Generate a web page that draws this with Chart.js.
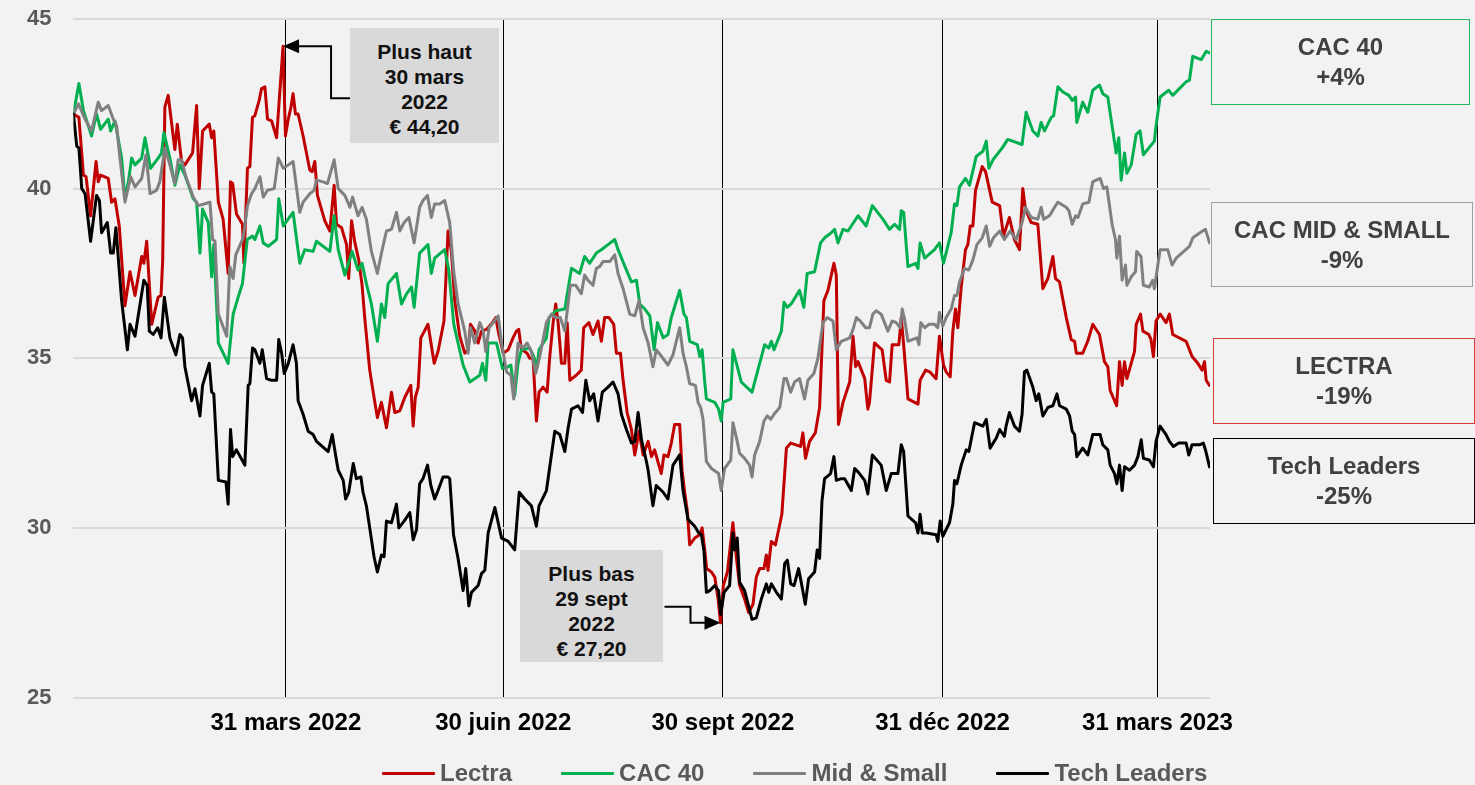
<!DOCTYPE html>
<html><head><meta charset="utf-8">
<script src="https://cdn.jsdelivr.net/npm/chart.js@4/dist/chart.umd.min.js"></script>
<style>
html,body{margin:0;padding:0;background:#f2f2f2;}
#wrap{position:relative;width:1475px;height:785px;overflow:hidden;background:#f2f2f2;font-family:"Liberation Sans",Arial,sans-serif;}
#c{position:absolute;left:0;top:0;}
.note{position:absolute;background:#d9d9d9;color:#111;font-weight:bold;font-size:21px;line-height:25px;text-align:center;box-sizing:border-box;padding-top:11px;}
.perf{position:absolute;box-sizing:border-box;border:1.5px solid;color:#404040;font-weight:bold;font-size:24px;line-height:30px;text-align:center;display:flex;flex-direction:column;justify-content:center;}
#legend{position:absolute;left:382px;top:758px;height:30px;display:flex;align-items:center;font-weight:bold;font-size:24px;color:#595959;white-space:nowrap;}
.li{display:flex;align-items:center;margin-right:49px;}
.li span.sw{display:inline-block;width:53px;height:3px;margin-right:5px;border-radius:1px;}
</style></head>
<body>
<div id="wrap">
<canvas id="c" width="1475" height="785"></canvas>
<div class="note" style="left:350px;top:28px;width:149px;height:115px;">Plus haut<br>30 mars<br>2022<br>€ 44,20</div>
<div class="note" style="left:520px;top:550px;width:143px;height:112px;">Plus bas<br>29 sept<br>2022<br>€ 27,20</div>
<div class="perf" style="left:1211px;top:19px;width:259px;height:86px;border-color:#1fb85a;"><div>CAC 40</div><div>+4%</div></div>
<div class="perf" style="left:1211px;top:202px;width:262px;height:85px;border-color:#a0a0a0;"><div>CAC MID &amp; SMALL</div><div>-9%</div></div>
<div class="perf" style="left:1213px;top:338px;width:262px;height:86px;border-color:#d93a3a;"><div>LECTRA</div><div>-19%</div></div>
<div class="perf" style="left:1213px;top:438px;width:262px;height:86px;border-color:#000;"><div>Tech Leaders</div><div>-25%</div></div>
<div id="legend"></div>
</div>
<script>
// x values are days since 1 Jan 2022
const quarterDays = [89, 180, 272, 364, 454];
const quarterLabels = ["31 mars 2022", "30 juin 2022", "30 sept 2022", "31 déc 2022", "31 mars 2023"];
const yTicks = [25, 30, 35, 40, 45];
const seriesNames = ["Lectra", "CAC 40", "Mid & Small", "Tech Leaders"];
const highPoint = [87.8, 44.2];
const lowPoint = [271, 27.2];

const lectra = [[0,42.2],[2.3,42.1],[4.2,40.4],[5.3,40.35],[7.2,39.2],[9.5,40.8],[10.4,40.2],[11.4,40.4],[14.6,40.3],[16,39.6],[17.4,39.7],[19.2,38.9],[21.6,36.55],[23.7,37.55],[25.8,36.85],[28.6,38.0],[29.5,37.8],[30.7,38.45],[32.8,36.0],[35.5,36.8],[36.7,36.85],[37.4,37.9],[38.3,42.4],[39.7,42.75],[42.5,41.15],[43.5,41.9],[45.3,40.8],[46.7,40.7],[49.9,41.05],[51.6,42.45],[52.7,40.0],[54.1,41.7],[56.9,41.9],[57.9,41.5],[58.8,41.7],[60.7,39.6],[62.7,39.1],[64.8,37.5],[65.8,40.2],[66.7,40.15],[68.3,39.25],[70.8,38.95],[71.4,37.8],[72.9,40.6],[73.9,40.65],[75,42.1],[76,42.15],[77.8,42.6],[78.8,42.95],[80.2,43.0],[81.3,42.05],[83,42.0],[85.1,41.5],[87.8,44.2],[88.8,41.55],[90,42.05],[91.1,42.4],[92,42.8],[93,42.2],[94.1,42.2],[96.2,41.55],[99,40.55],[100,40.5],[101.1,40.8],[102.2,39.8],[105.3,39.05],[107.4,38.75],[109.2,40.1],[110.2,38.95],[112.3,38.85],[114.4,38.35],[115.3,37.35],[116.5,39.05],[117.9,38.4],[119.5,37.9],[120.9,37.15],[122,36.2],[124.1,34.65],[125.9,33.85],[127.3,33.25],[129,33.7],[131.1,32.95],[133.2,34.0],[134.6,33.4],[136.7,33.45],[138.8,33.85],[141.3,34.2],[142.3,33.0],[143.2,33.85],[144.4,34.15],[145.5,35.6],[148.5,36.0],[151.1,34.85],[152.7,35.2],[155.2,36.1],[156.9,38.75],[158.3,38.15],[159.7,36.7],[161.8,35.65],[163.9,35.15],[165.3,35.25],[166.3,36.0],[168.1,35.8],[169.5,35.45],[170.9,35.8],[173,35.85],[175.5,36.05],[176.9,36.2],[177.9,35.8],[180,35.15],[182.1,35.25],[184.1,35.6],[185.5,35.8],[186.5,35.85],[187.6,35.25],[189,35.2],[190,35.15],[191.1,35.0],[192.5,35.0],[193.9,33.15],[195,34.0],[196.7,34.15],[198.4,34.0],[199.5,35.05],[200.9,36.05],[202,36.6],[203,36.05],[204.4,34.85],[205.8,34.85],[206.8,36.05],[207.9,34.35],[210.6,34.5],[212.7,34.65],[213.7,35.9],[215.9,36.05],[217.6,35.7],[219.7,36.1],[221.1,35.5],[222.5,36.2],[224.3,36.2],[226.3,36.0],[227.4,35.15],[229.1,35.15],[230.2,34.35],[231.9,33.4],[233.7,32.9],[235.1,32.15],[236.9,32.85],[238.6,32.15],[240.7,32.55],[242.1,32.1],[243.4,32.3],[244.8,31.95],[246.2,31.6],[247.3,32.15],[249,32.1],[250.4,32.5],[251.8,33.05],[253.9,33.05],[254.9,31.7],[256,31.05],[257.1,30.5],[258.1,29.5],[260.2,29.7],[262.3,29.8],[263.3,30.0],[264.4,29.35],[265.2,28.8],[267.2,28.7],[268.6,28.55],[270,27.9],[271,27.2],[272.2,28.3],[273.9,28.7],[276.2,30.15],[277.6,29.15],[279,28.3],[281.1,27.9],[282.8,27.5],[284.6,27.75],[286,28.55],[287.4,28.8],[289.2,28.8],[290.2,29.2],[290.9,28.75],[292.3,29.6],[294,29.5],[296.7,30.4],[298.6,32.35],[300.4,32.5],[304.5,32.4],[305.5,32.8],[306.6,32.05],[308.3,32.55],[310.7,32.8],[312.5,33.55],[314.3,36.7],[316,37.0],[318.5,37.8],[319.5,37.45],[320.4,33.05],[322.3,33.7],[325.1,34.3],[326.5,35.65],[327.6,34.75],[328.6,34.9],[331.4,34.4],[332.7,33.5],[333.4,33.7],[335.5,35.45],[338.7,35.25],[340.4,34.35],[341.8,34.3],[342.9,35.4],[345.7,35.4],[346.7,36.2],[347.7,35.4],[349.5,33.8],[353.7,33.65],[354.6,34.35],[356.9,34.65],[358.6,34.6],[361.3,34.4],[362.7,35.65],[364.4,34.8],[365.5,34.6],[367.2,34.45],[368.3,35.8],[369.4,36.45],[370.4,35.9],[371.8,37.1],[373.6,38.2],[374.6,38.35],[375.6,38.9],[376.7,38.9],[377.8,39.95],[380.6,40.65],[382,40.5],[383.4,40.05],[384.8,39.6],[387.9,39.5],[389.5,38.6],[392,39.15],[394.1,38.5],[396.2,38.2],[397.6,40.0],[398.7,39.4],[401.1,39.0],[403.9,38.95],[406,37.05],[408.1,37.35],[410.2,38.0],[411.3,37.35],[413,37.25],[415.8,36.2],[417.9,35.55],[419.3,35.5],[420,35.15],[422.7,35.15],[424.8,35.5],[426.9,36.0],[429.7,35.7],[431.8,34.9],[433.2,34.75],[434.2,34.05],[436.9,33.6],[438.1,34.9],[439.2,34.2],[440.2,34.9],[441.2,34.4],[444.4,35.2],[445.1,36.0],[446.9,36.3],[447.9,35.8],[450.4,35.7],[451.3,35.55],[452.3,35.05],[453.4,36.1],[455.1,36.3],[457.6,36.05],[459,36.3],[460.4,35.7],[466,35.5],[468.5,35.05],[470.9,34.85],[472.7,34.65],[473.7,34.9],[474.4,34.35],[475.8,34.2]];

const cac40 = [[0,42.2],[2.3,43.1],[4.2,42.3],[7.6,41.55],[9.7,42.2],[11.4,41.75],[14.6,42.05],[15.6,41.7],[17.4,42.0],[20.2,40.9],[21.6,39.7],[23,40.2],[24.4,40.9],[25.8,40.7],[28.6,40.9],[30,41.5],[32.3,40.6],[35.5,40.9],[36.9,41.05],[37.9,41.65],[40.4,40.9],[42.5,40.1],[44.6,40.7],[46.7,40.4],[50.2,39.7],[51.6,39.6],[53,38.1],[54.1,39.4],[56.5,39.0],[57.9,37.4],[58.8,38.35],[60.7,35.45],[64.8,34.85],[66.9,36.3],[69,36.8],[70.8,37.2],[72.8,38.5],[75,38.6],[76,38.5],[78.1,38.9],[79.5,38.4],[81.6,38.3],[85.1,38.5],[86,39.7],[87.9,38.9],[92,39.3],[94.8,37.8],[96.9,38.2],[100.4,38.15],[101.8,38.45],[107.4,38.15],[109.2,39.2],[110.9,38.2],[113.7,37.45],[116.7,38.15],[119.2,37.6],[120.9,37.8],[122.7,37.2],[124.8,36.6],[127.3,35.5],[129,36.6],[130.4,36.2],[131.8,37.2],[135.3,37.5],[137.4,36.6],[139.5,36.9],[141.6,37.1],[142.7,36.5],[145,38.1],[148.5,38.35],[149.9,37.5],[151.3,37.95],[155.5,38.2],[157.2,37.6],[159.3,36.0],[163.2,34.8],[166,34.3],[170.2,34.5],[171.3,34.85],[172.7,34.35],[173.7,35.45],[177.2,35.45],[179.7,34.7],[182,34.75],[183.2,34.8],[184.8,33.9],[186.2,34.85],[187.6,35.25],[191.1,35.3],[192.5,35.1],[194.2,34.75],[195,35.25],[198.1,35.6],[199.2,36.2],[202,36.4],[205.8,36.45],[208.6,37.65],[212,37.5],[214.1,38.0],[216.2,37.8],[219,38.1],[221.1,38.2],[223.9,38.35],[226.7,38.5],[228.1,38.2],[231.6,37.6],[233.7,37.25],[235.8,37.3],[237.2,36.6],[239.3,36.45],[241.4,36.25],[243.2,35.25],[244.6,36.05],[247,35.6],[249,35.7],[250.4,36.2],[253.9,37.0],[255.7,36.3],[256.7,36.2],[258.1,35.5],[261.3,35.4],[262.3,35.05],[263.3,35.25],[264.4,34.3],[265.1,33.8],[268.6,33.7],[270.2,33.5],[271.3,33.15],[272.1,33.7],[275.3,33.8],[276.2,35.25],[279.7,34.3],[284.2,34.0],[287.4,34.85],[289.5,35.4],[291.2,35.3],[292.3,35.5],[293.4,35.25],[296.5,35.8],[297.6,36.65],[299,36.5],[300.6,36.6],[304.1,37.0],[305.9,36.5],[307.3,37.5],[310.4,37.55],[312.9,38.4],[314.6,38.55],[317.4,38.7],[318.8,38.8],[320.2,38.4],[322.3,38.8],[324.4,38.75],[328.6,39.2],[332,38.9],[334.6,39.5],[339,39.1],[341.8,38.8],[343.9,38.95],[346,38.8],[346.7,39.35],[347.7,39.3],[349.5,37.7],[352.7,37.8],[353.7,37.65],[354.6,38.4],[356.5,37.95],[360.6,38.2],[362.7,38.4],[364.4,37.8],[367.6,38.7],[369,39.55],[370,39.5],[371.1,40.05],[373.6,40.3],[375.3,40.1],[378.1,40.95],[380.9,41.1],[382.3,41.4],[383.4,40.6],[385.1,40.85],[389,41.2],[391.3,41.45],[397.3,41.3],[399,42.25],[401.8,41.7],[403.9,41.55],[405.3,41.95],[406.7,41.7],[409.5,42.1],[410.5,42.15],[412.3,43.0],[414.4,42.85],[416.9,42.75],[418.3,42.6],[419.7,42.7],[420.2,41.95],[422.7,42.55],[424.8,42.25],[426.9,42.9],[429.7,43.05],[431.1,42.8],[433.2,42.7],[435,41.85],[436.7,41.05],[437.8,41.5],[438.8,40.25],[440.2,41.05],[441.2,40.45],[443,40.7],[445.1,41.6],[446.7,41.7],[448.1,41.0],[452.7,41.4],[453.4,41.85],[455.1,42.7],[458.7,42.9],[460.4,42.75],[466,43.15],[467.4,43.2],[468.8,43.9],[472.3,43.8],[474.4,44.05],[475.8,44.0]];

const midSmall = [[0,42.2],[2.1,42.5],[4.9,42.05],[7.6,41.7],[10.4,42.55],[11.8,42.3],[14.6,42.45],[16.7,42.05],[18.1,41.85],[19.5,40.9],[21.6,39.6],[24,40.35],[25.8,40.05],[28.6,40.3],[30.4,41.0],[32.1,39.85],[34.8,39.95],[36.2,40.2],[38.3,41.2],[40.4,40.7],[42.5,40.15],[43.9,40.85],[45.3,40.85],[47.1,40.35],[50.2,39.75],[52.3,39.5],[57.2,39.6],[58.3,38.5],[59.3,38.45],[60.7,36.3],[64.2,35.65],[65.5,37.7],[66.9,37.35],[68,38.05],[71.1,38.55],[72.9,39.5],[74.6,39.85],[76,40.0],[78.1,40.35],[79.5,39.75],[81.3,39.95],[84.1,40.0],[85.8,40.9],[87.9,40.6],[90,40.7],[92,40.8],[94.8,39.3],[96.2,39.6],[99,39.85],[100.8,39.95],[101.8,40.25],[104.6,40.2],[106.4,40.15],[109.2,40.85],[110.9,40.0],[113.7,39.8],[115.8,39.45],[116.9,39.75],[119.2,39.2],[120.9,39.45],[122.7,39.1],[124.8,38.15],[127.3,37.5],[129,38.1],[131.1,38.75],[133.2,38.8],[135.3,39.3],[136.7,38.75],[138.5,39.0],[140.5,39.15],[142.7,38.4],[145,39.45],[146.4,39.65],[148.3,39.8],[149.9,39.15],[151.3,39.55],[153.4,39.55],[155.5,39.65],[157.6,39.0],[159.2,37.6],[161.1,36.6],[163.9,35.8],[165.3,35.15],[166.3,35.9],[168.1,35.45],[170.2,36.05],[171.6,35.8],[172.7,35.2],[174.1,35.9],[175.8,36.05],[177.9,36.25],[179.3,35.45],[181.4,34.6],[183.2,34.5],[184.4,33.8],[186.2,35.45],[188.3,35.3],[190,35.45],[191.8,35.2],[193.6,34.55],[195.3,35.05],[198.1,36.05],[200.2,36.3],[202,36.2],[203.9,36.2],[205.8,35.8],[208.1,37.15],[210.4,37.15],[212.7,36.9],[214.1,37.45],[215.5,37.3],[217.6,37.15],[219,37.65],[220.4,37.7],[221.8,37.85],[224.6,37.85],[226.7,38.05],[228.1,37.5],[230.2,37.05],[233,36.3],[235.1,36.25],[236.9,36.7],[238.6,35.9],[240.7,35.45],[242.7,34.75],[244.1,35.25],[246.9,35.0],[249,34.8],[251.1,35.1],[253.9,35.9],[255.3,35.15],[256.7,34.75],[258.1,34.25],[260.5,34.2],[261.6,33.7],[262.7,33.55],[263.7,33.2],[265.1,31.95],[267.2,31.75],[270.2,31.6],[271.3,31.1],[272.7,31.75],[275.3,32.0],[276.2,33.1],[278,32.55],[279,32.2],[281.1,32.05],[283.2,31.85],[284.2,31.5],[285.3,32.15],[287.4,32.55],[289.2,33.15],[290.6,33.3],[292,33.2],[293.4,33.35],[295.8,33.55],[297.6,34.4],[298.6,34.4],[300.4,34.0],[302,34.3],[304.1,34.4],[306.2,33.8],[307.6,34.35],[310.1,34.55],[311.8,35.0],[313.9,36.05],[315.7,36.2],[318.1,36.1],[319.5,35.25],[321.6,35.5],[325.1,35.6],[326.5,35.85],[327.9,36.2],[329.5,36.1],[331.8,35.9],[333.4,35.9],[334.8,36.3],[336.2,36.4],[338.3,36.3],[341.1,35.8],[342.9,36.1],[344.6,36.05],[346.3,35.9],[347.1,36.45],[348.1,36.15],[349.5,35.5],[351.3,35.55],[353.3,35.6],[354.1,35.4],[354.9,36.05],[356.5,35.9],[358.3,36.0],[360.6,36.0],[362,35.9],[362.7,36.35],[364.1,35.95],[365.5,36.2],[367.6,36.45],[369,36.85],[370,36.85],[371.1,37.25],[373.2,37.65],[375,37.6],[376.7,37.9],[378.4,38.35],[380.6,38.55],[382.3,38.9],[383.7,38.3],[385.3,38.55],[387.9,38.75],[389.9,38.5],[392.3,38.75],[394.8,38.5],[397.3,39.0],[398.7,39.45],[401.1,39.15],[403.9,39.1],[405.3,39.45],[406.3,39.1],[408.8,39.2],[410.9,39.45],[412.3,39.6],[415.8,39.45],[416.9,39.35],[418.3,38.95],[419.7,39.2],[420.7,39.15],[422.7,39.55],[425.3,39.6],[426.9,40.2],[428.3,40.25],[430,40.3],[431.4,40.0],[432.8,40.05],[435,38.95],[436.4,38.5],[437,37.95],[438.1,38.6],[439.2,37.3],[440.6,37.75],[441.2,37.15],[443,37.4],[444.8,37.55],[445.3,38.15],[447.1,38.0],[448.1,37.15],[450.6,37.1],[452,37.3],[452.7,37.05],[455.1,38.2],[458.3,38.2],[460.1,37.75],[461.8,37.95],[467.4,38.3],[468.8,38.55],[471.8,38.7],[474.1,38.8],[475.8,38.4]];

const techLeaders = [[0,42.2],[1.4,41.25],[2.3,41.2],[3.5,40.0],[4.9,39.85],[7.2,38.45],[9.7,39.8],[10.9,39.65],[11.8,38.7],[14.2,39.0],[15.6,38.1],[16.7,38.1],[17.8,38.85],[20.2,36.7],[22.6,35.25],[23.7,36.0],[25.8,35.65],[29.5,37.3],[30.9,37.15],[31.8,35.8],[33.4,35.7],[35.3,35.9],[36.7,35.6],[38.1,36.8],[40.4,35.6],[42.9,35.1],[44.6,35.7],[45.7,35.6],[46.7,34.75],[49.5,33.75],[50.9,34.1],[53,33.3],[54.1,34.2],[56.9,34.85],[57.9,34.0],[58.8,33.95],[60.7,31.4],[63.9,31.35],[64.8,30.7],[65.8,32.9],[66.7,32.1],[68.3,32.3],[71.8,31.85],[73.2,34.2],[73.9,34.25],[75,35.3],[76,35.25],[78.1,34.85],[79.1,35.25],[80.9,34.4],[83,34.35],[85.1,34.35],[86,35.55],[87.2,35.15],[88.3,34.55],[90,34.85],[92,35.4],[93.4,34.85],[94.1,33.75],[96.2,33.35],[98.3,32.85],[100.4,32.75],[101.8,32.55],[106.7,32.25],[108.4,32.75],[109.8,32.15],[110.9,31.7],[113,31.4],[114,30.85],[115.3,31.05],[117.2,31.9],[118.5,31.45],[120.4,31.5],[121.3,31.05],[122.7,30.65],[124.1,30.0],[125.9,29.15],[127.3,28.7],[129,29.2],[130.1,29.15],[131.1,30.2],[133.2,30.15],[135.3,30.7],[136.3,30.0],[138.5,30.2],[140.9,30.45],[142.3,29.65],[143.7,29.95],[145,31.3],[146.4,31.45],[148.3,31.85],[149.7,31.25],[151.3,30.85],[152.7,31.1],[154.8,31.5],[156.9,31.5],[157.6,31.45],[159.2,29.8],[161.1,29.1],[163.2,28.15],[164.3,28.8],[165.6,27.7],[166.7,28.1],[169.5,28.3],[170.9,28.65],[172.3,28.75],[173.7,29.85],[176.5,30.6],[179.3,29.7],[182.1,29.6],[184.8,29.35],[186.7,31.05],[189,30.85],[191.8,30.65],[193.9,30.05],[195,30.65],[198.1,31.1],[199.5,31.8],[201.6,32.85],[203.7,32.75],[205.8,32.25],[207.2,32.95],[208.6,33.5],[211.3,33.6],[213.2,33.4],[214.6,34.35],[216.2,33.75],[217.9,33.95],[219.7,33.15],[221.5,34.0],[223.9,34.15],[226,34.3],[228.1,33.95],[229.5,33.35],[231.6,32.9],[233.7,32.5],[235.1,32.55],[236.5,33.4],[237.9,32.6],[240,31.95],[240.7,31.7],[242.7,30.65],[244.1,31.25],[247,31.05],[249,30.85],[251.1,31.85],[253.9,32.15],[255.3,31.1],[257.4,30.25],[260.2,30.05],[261.9,29.85],[263,29.8],[264.1,29.3],[265.1,28.1],[266.5,28.15],[268.6,28.3],[270.2,28.15],[271.1,27.45],[272.5,28.1],[274.8,28.3],[276.2,29.85],[276.9,29.35],[278,29.7],[279,28.4],[281.1,28.15],[284.2,27.3],[286,27.35],[288.1,27.9],[290.2,28.35],[291.2,28.1],[292.3,28.35],[294.4,28.1],[296.5,27.9],[297.9,28.95],[299,29.05],[300.4,28.35],[301.8,28.3],[303.7,28.8],[304.8,28.4],[306.5,27.75],[307.9,28.5],[310.4,28.7],[311.5,29.35],[312.5,29.1],[313.5,30.8],[314.6,31.45],[317.1,31.6],[318.5,32.1],[319.5,31.4],[321.6,31.45],[323,31.45],[325.8,31.1],[327.2,31.75],[328.6,31.65],[331.4,31.4],[332.7,31.0],[334.6,32.15],[338.3,31.85],[340.4,31.1],[342.5,31.6],[345.3,31.6],[346.7,32.45],[347.7,32.25],[349.5,30.35],[352.7,30.15],[353.7,29.85],[354.6,30.4],[355.5,29.85],[357.2,29.85],[361.3,29.8],[362,29.6],[363,30.2],[364.1,29.75],[366.9,30.15],[368.3,30.7],[369,31.4],[370,31.3],[371.8,31.85],[373.9,32.3],[375,32.25],[377.4,33.1],[380.9,33.0],[382.3,33.2],[383.9,32.35],[386.5,32.65],[387.9,32.9],[389.9,32.7],[390.6,33.0],[392,33.4],[394.1,33.0],[396.2,32.85],[397.3,33.35],[398.3,34.6],[399.3,34.65],[401.8,34.15],[403.2,33.75],[404.3,33.95],[406,33.3],[408.1,33.55],[410.2,33.6],[411.9,33.95],[413,33.6],[415.8,33.5],[417.2,33.3],[418.3,32.85],[419.3,32.75],[420.2,32.1],[422.7,32.35],[424.8,32.15],[426.9,32.75],[430,32.75],[431.1,32.45],[433.2,32.3],[434.2,31.85],[436,31.6],[437,31.3],[438.1,31.85],[439.2,31.1],[440.2,31.8],[442.3,31.7],[444.4,31.85],[445.8,32.1],[447.2,32.6],[448.1,32.05],[450.6,32.0],[452.3,31.8],[453.4,32.55],[455.1,33.0],[457.6,32.75],[459,32.55],[460.7,32.4],[462.9,32.5],[466,32.5],[467.1,32.15],[468.5,32.45],[471.6,32.45],[473.2,32.5],[474.1,32.3],[475.8,31.8]];

const colors = ["#c00000", "#00b050", "#808080", "#000000"];
const allSeries = [lectra, cac40, midSmall, techLeaders];

const FONT = '"Liberation Sans", Arial, sans-serif';
Chart.defaults.font.family = FONT;

// target plot-area box in page pixels
const AREA = {left: 73.4, top: 19, right: 1210, bottom: 697.5};
const Y_LABEL_LEFT = 27;

const arrowPlugin = {
  id: 'arrows',
  afterDatasetsDraw(chart) {
    const {ctx, scales: {x, y}} = chart;
    ctx.save();
    ctx.strokeStyle = '#000'; ctx.fillStyle = '#000'; ctx.lineWidth = 2;
    function head(tx, ty, dir) {
      ctx.beginPath();
      ctx.moveTo(tx, ty);
      ctx.lineTo(tx - dir * 16, ty - 7);
      ctx.lineTo(tx - dir * 16, ty + 7);
      ctx.closePath(); ctx.fill();
    }
    const hx = x.getPixelForValue(highPoint[0]), hy = y.getPixelForValue(highPoint[1]);
    ctx.beginPath();
    ctx.moveTo(hx + 67, hy + 52); ctx.lineTo(hx + 48, hy + 52); ctx.lineTo(hx + 48, hy); ctx.lineTo(hx + 14, hy);
    ctx.stroke();
    head(hx, hy, -1);
    const lx = x.getPixelForValue(lowPoint[0]), ly = y.getPixelForValue(lowPoint[1]);
    ctx.beginPath();
    ctx.moveTo(lx - 56, ly - 16); ctx.lineTo(lx - 30, ly - 16); ctx.lineTo(lx - 30, ly); ctx.lineTo(lx - 14, ly);
    ctx.stroke();
    head(lx, ly, 1);
    ctx.restore();
  }
};

const chart = new Chart(document.getElementById('c').getContext('2d'), {
  type: 'line',
  data: {
    datasets: allSeries.map((s, i) => ({
      label: seriesNames[i],
      data: s.map(p => ({x: p[0], y: p[1]})),
      borderColor: colors[i],
      backgroundColor: colors[i],
      borderWidth: 3,
      pointRadius: 0,
      tension: 0,
      borderJoinStyle: 'round',
      borderCapStyle: 'round',
      fill: false,
      order: allSeries.length - i
    }))
  },
  options: {
    responsive: false,
    animation: false,
    layout: {padding: {top: AREA.top, right: 1475 - AREA.right, left: Y_LABEL_LEFT, bottom: 0}},
    plugins: {legend: {display: false}, tooltip: {enabled: false}},
    scales: {
      x: {
        type: 'linear', min: 0, max: 476,
        afterBuildTicks(ax) { ax.ticks = quarterDays.map(v => ({value: v})); },
        afterFit(s) { s.height = 785 - AREA.bottom; },
        grid: {color: '#000', lineWidth: 1, drawTicks: false},
        border: {display: false},
        ticks: {
          autoSkip: false, maxRotation: 0, minRotation: 0, padding: 11, color: '#000',
          font: {family: FONT, size: 24, weight: 'bold'},
          callback: (v, i) => quarterLabels[i]
        }
      },
      y: {
        min: 25, max: 45,
        afterBuildTicks(ax) { ax.ticks = yTicks.map(v => ({value: v})); },
        afterFit(s) { s.width = AREA.left - Y_LABEL_LEFT; },
        grid: {color: '#d9d9d9', lineWidth: 2, drawTicks: false},
        border: {display: false},
        ticks: {padding: 0, crossAlign: 'far', color: '#595959', font: {family: FONT, size: 22, weight: 'bold'}}
      }
    }
  },
  plugins: [arrowPlugin]
});

// correct any extra padding the layout engine added so the plot area sits where the reference has it
(function fixArea() {
  const ca = chart.chartArea;
  const p = chart.options.layout.padding;
  const dTop = ca.top - AREA.top;
  const dBottom = AREA.bottom - ca.bottom;
  if (Math.abs(dTop) > 0.5 || Math.abs(dBottom) > 0.5) {
    p.top = Math.max(0, p.top - dTop);
    p.bottom = Math.max(0, (p.bottom || 0) - dBottom);
    chart.update();
  }
})();

const legend = document.getElementById('legend');
seriesNames.forEach((n, i) => {
  const item = document.createElement('div');
  item.className = 'li';
  const sw = document.createElement('span');
  sw.className = 'sw'; sw.style.background = colors[i];
  const t = document.createElement('span');
  t.textContent = n;
  item.appendChild(sw); item.appendChild(t);
  legend.appendChild(item);
});
</script>
</body></html>
